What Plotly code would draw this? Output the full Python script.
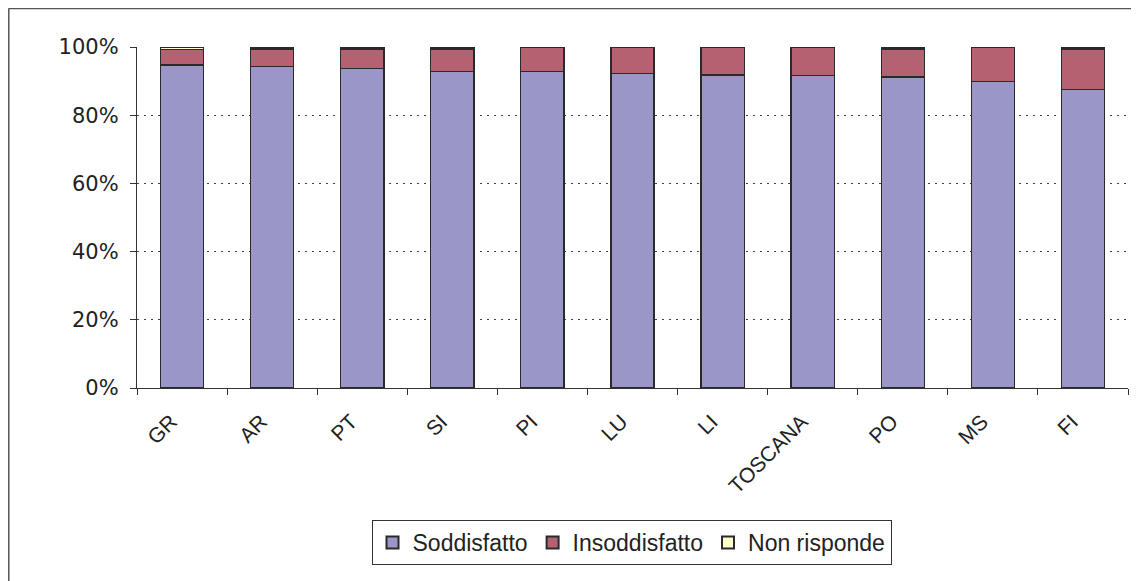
import plotly.graph_objects as go

categories = ["GR", "AR", "PT", "SI", "PI", "LU", "LI", "TOSCANA", "PO", "MS", "FI"]
soddisfatto = [94.7, 94.2, 93.6, 92.8, 92.8, 92.3, 91.8, 91.7, 91.2, 89.9, 87.5]
insoddisfatto = [4.6, 5.2, 5.8, 6.6, 7.2, 7.7, 8.2, 8.3, 8.2, 10.1, 11.9]
non_risponde = [0.7, 0.6, 0.6, 0.6, 0.0, 0.0, 0.0, 0.0, 0.6, 0.0, 0.6]

# page has an 8px body margin; figure sized to fit the window
W, H = 1131, 573
L, R, T, B = 129, 11, 39, 193
pw, ph = W - L - R, H - T - B

fig = go.Figure()
line = dict(color="#2a2a2a", width=1.3)
fig.add_trace(go.Bar(x=categories, y=soddisfatto, name="Soddisfatto",
                     marker=dict(color="#9B96C8", line=line)))
fig.add_trace(go.Bar(x=categories, y=insoddisfatto, name="Insoddisfatto",
                     marker=dict(color="#B46272", line=line)))
fig.add_trace(go.Bar(x=categories, y=non_risponde, name="Non risponde",
                     marker=dict(color="#FFFFCC", line=line)))

def px(x):
    return (x - L) / pw

def py(y):
    return (H - B - y) / ph

fig.update_layout(
    width=W, height=H,
    margin=dict(l=L, r=R, t=T, b=B),
    barmode="stack", bargap=0.52,
    plot_bgcolor="white", paper_bgcolor="white",
    font=dict(family="Liberation Sans, Arial, sans-serif", color="#222222"),
    showlegend=True,
    legend=dict(orientation="h", x=0.499, xanchor="center", y=py(512), yanchor="top",
                bordercolor="#333333", borderwidth=1, font=dict(size=23),
                traceorder="normal", itemsizing="constant", itemwidth=30),
    xaxis=dict(showline=True, linecolor="#333333", linewidth=1.3, ticks="outside",
               tickson="boundaries", ticklen=6, tickcolor="#333333", tickangle=-45,
               ticklabelshift=-11, ticklabelstandoff=12,
               tickfont=dict(size=21, family="Liberation Sans, Arial, sans-serif"),
               showgrid=False),
    yaxis=dict(range=[0, 100], tickvals=[0, 20, 40, 60, 80, 100],
               ticktext=["0%", "20%", "40%", "60%", "80%", "100%"],
               showline=True, linecolor="#333333", linewidth=1.3, ticks="outside",
               ticklen=6, tickcolor="#333333", ticklabelstandoff=7,
               tickfont=dict(size=21, family="DejaVu Sans, Verdana, sans-serif"),
               showgrid=True, gridcolor="#444444", griddash="2px,5px", gridwidth=1,
               zeroline=False),
)
fig.add_shape(type="line", xref="paper", yref="paper",
              x0=px(0.5), x1=px(W + 5), y0=py(0.5), y1=py(0.5),
              line=dict(color="#555555", width=1.5), layer="below")
fig.add_shape(type="line", xref="paper", yref="paper",
              x0=px(0.8), x1=px(0.8), y0=py(0.5), y1=py(H + 5),
              line=dict(color="#555555", width=1.5), layer="below")
fig.write_html("out.html")
